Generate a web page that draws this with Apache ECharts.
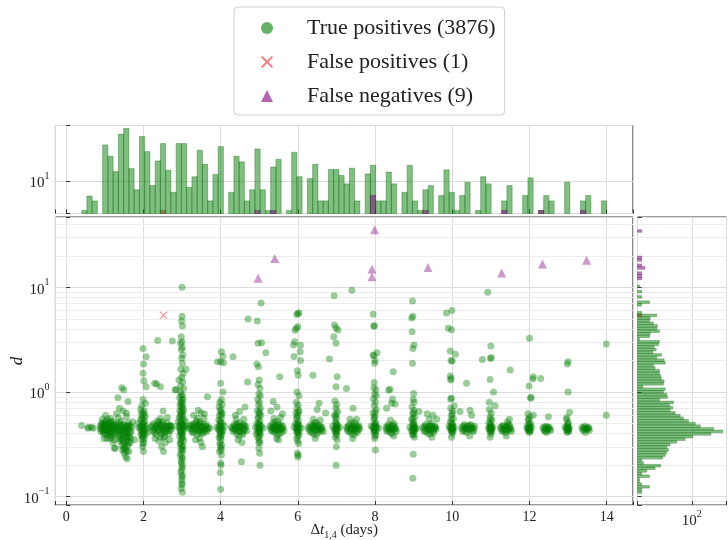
<!DOCTYPE html>
<html>
<head>
<meta charset="utf-8">
<script src="https://cdn.jsdelivr.net/npm/echarts@6/dist/echarts.min.js"></script>
<style>
  html, body { margin: 0; padding: 0; background: #fff; }
  #chart { width: 728px; height: 540px; }
</style>
</head>
<body>
<div id="chart"></div>
<script>
var legendNames = ['True positives (3876)', 'False positives (1)', 'False negatives (9)'];

// top histogram: 100 bins of dt, from 0.4 to 14.0 days
var topBinStart = 0.4, topBinWidth = 0.136;
var topHistGreen = [
  3.8, 6.1, 5.2, 0, 32.6, 22.5, 13.6, 46.4, 55.9, 15,
  7.5, 43, 26.2, 8.6, 19.3, 34.1, 14.2, 6.9, 34.1, 34.1,
  8.1, 11.5, 27.4, 17.3, 5.2, 12.4, 30.9, 0, 6.9, 22.5,
  18.7, 5.2, 7.5, 28.6, 7.5, 3.8, 15.8, 20.3, 0, 3.8,
  25.6, 11.5, 0, 10.8, 17.3, 5.2, 5.2, 14.6, 14.6, 12,
  9.1, 15.2, 5.2, 0, 12.6, 16.7, 5.2, 5.2, 13.4, 9.1,
  0, 6.9, 16.7, 5.2, 3.8, 7.5, 8.6, 0, 6.2, 14.4,
  6.9, 3.8, 6.2, 9.6, 0, 3.8, 11.5, 9.1, 0, 0,
  5.2, 8.6, 0, 0, 6.2, 11.1, 0, 3.8, 6.2, 5.2,
  0, 0, 9.6, 0, 0, 5.2, 6.2, 0, 0, 5.2
];
var topHistRed = [[15, 3.8]];
var topHistPurple = [[33, 3.8], [36, 3.8], [55, 6.2], [65, 3.8], [80, 3.8], [87, 3.8], [95, 3.8]];

// right histogram: 100 bins of log10(d)
var rightLogMin = -0.968, rightLogStep = 0.02519;
var rightHistGreen = [
  19.3, 19.3, 24.9, 19.3, 17.9, 17.9, 24.9, 19.3, 22.8, 30,
  36.1, 20.4, 19.3, 38.5, 41.7, 44, 46.5, 44, 49.1, 61,
  80.5, 103, 187, 277, 204, 132, 112, 89.7, 76, 68.3,
  57.9, 49.1, 53.5, 48, 54.8, 34.6, 45, 44, 39.4, 41.7,
  20, 39.4, 40.3, 36.9, 36.1, 34.6, 34.6, 30, 28.4, 41.7,
  40.3, 31.6, 36.9, 27.7, 31, 29, 33.4, 34.6, 17.9, 24.9,
  25.5, 34.6, 31.6, 32.4, 28.4, 24.9, 25.5, 31.6, 19.3, 0,
  0, 19.3, 24.9, 0, 19.3, 0, 19.3, 0, 18, 0,
  0, 0, 0, 0, 0, 0, 0, 0, 0, 0,
  0, 0, 0, 0, 0, 0, 0, 0, 0, 0
];
var rightHistRed = [[67, 19.3]];
var rightHistPurple = [[81, 19.3], [82, 19.3], [83, 19.3], [85, 21.5], [86, 19.3], [88, 19.3], [89, 19.3], [99, 19.3]];

// scatter: [dt (days), d] -- spread of each group
var tpSpread = [
  [0.40,0.48],[0.56,0.45],[0.58,0.46],[0.66,0.46],[0.70,0.45],
  [0.88,0.47],[0.90,0.42],[0.92,0.51],[0.95,0.45],[0.97,0.40],[0.99,0.49],[1.01,0.43],[1.03,0.53],[1.05,0.46],[1.06,0.39],
  [1.08,0.50],[1.10,0.44],[1.12,0.48],[1.14,0.41],[1.16,0.52],[1.18,0.45],[1.20,0.38],[1.22,0.49],[1.24,0.43],[1.27,0.47],
  [1.30,0.41],[1.02,0.60],[1.15,0.56],[0.94,0.55],[1.25,0.35],[1.21,0.33],[1.25,0.29],[1.12,0.36],[0.98,0.36],[1.07,0.55],
  [0.93,0.44],[1.00,0.46],[1.09,0.42],[1.19,0.47],[1.28,0.44],
  [1.32,0.50],[1.34,0.44],[1.36,0.39],[1.38,0.47],[1.40,0.42],[1.42,0.53],[1.43,0.36],[1.45,0.46],[1.47,0.40],[1.48,0.33],
  [1.50,0.49],[1.52,0.43],[1.53,0.37],[1.55,0.30],[1.56,0.47],[1.58,0.41],[1.59,0.35],[1.61,0.51],[1.62,0.44],[1.64,0.38],
  [1.66,0.48],[1.68,0.42],[1.70,0.46],[1.46,0.28],[1.50,0.26],[1.54,0.24],[1.58,0.23],[1.62,0.27],[1.52,0.31],[1.44,0.31],
  [1.60,0.31],[1.66,0.33],[1.40,0.34],[1.27,0.29],[1.77,0.35],[1.72,0.52],[1.35,0.57],[1.56,0.58],[1.48,0.45],[1.57,0.38],
  [1.44,1.10],[1.49,1.05],[1.34,0.88],[1.60,0.81],[1.38,0.70],[1.56,0.63],[1.47,0.66],[1.30,0.62],
  [1.93,0.68],[1.97,0.64],[2.02,0.66],[1.95,0.60],[2.00,0.57],[2.05,0.59],[1.93,0.54],[1.98,0.51],[2.03,0.53],[1.95,0.48],
  [2.00,0.46],[2.05,0.47],[1.92,0.44],[1.97,0.42],[2.02,0.43],[1.94,0.39],[1.99,0.37],[2.04,0.39],[1.96,0.35],[2.01,0.33],
  [1.98,0.30],[2.00,0.27],[1.88,0.46],[2.09,0.45],[1.86,0.50],[2.10,0.41],
  [1.99,2.61],[2.07,2.17],[2.00,1.85],[1.99,1.51],[2.01,1.28],[2.07,1.12],[1.99,0.85],[2.05,0.78],[1.96,0.74],
  [2.20,0.46],[2.24,0.42],[2.27,0.50],[2.30,0.45],[2.33,0.39],[2.35,0.48],[2.38,0.43],[2.41,0.52],[2.43,0.46],[2.46,0.40],
  [2.48,0.49],[2.51,0.44],[2.53,0.37],[2.56,0.47],[2.58,0.42],[2.61,0.51],[2.63,0.45],[2.66,0.40],[2.69,0.48],[2.72,0.44],
  [2.75,0.47],[2.40,0.34],[2.47,0.30],[2.52,0.27],[2.57,0.33],[2.44,0.56],[2.62,0.57],[2.30,0.36],[2.68,0.35],
  [2.29,1.21],[2.34,1.19],[2.44,1.12],[2.37,3.10],[2.75,3.07],[2.82,1.05],[2.51,0.66],
  [2.96,1.00],[3.01,0.94],[2.94,0.88],[3.03,0.86],[2.98,0.80],[2.95,0.74],[3.02,0.76],[2.99,0.70],[2.94,0.66],[3.04,0.67],
  [2.97,0.62],[3.01,0.59],[2.93,0.57],[3.05,0.55],[2.98,0.53],[2.95,0.50],[3.02,0.49],[2.99,0.46],[2.92,0.45],[3.06,0.45],
  [2.96,0.43],[3.03,0.42],[2.99,0.40],[2.94,0.38],[3.02,0.37],[2.97,0.35],[3.04,0.34],[2.95,0.32],[3.00,0.31],[2.97,0.29],
  [3.02,0.28],[2.99,0.26],[2.95,0.25],[3.01,0.23],[2.98,0.21],[3.00,0.19],[2.97,0.17],[3.01,0.16],[2.99,0.145],[3.00,0.13],
  [2.98,0.12],[3.01,0.11],[2.93,0.47],[3.07,0.48],[3.08,0.52],[2.90,0.52],
  [3.00,10.0],[3.00,5.30],[2.99,4.77],[3.01,4.27],[2.98,3.37],[3.00,3.00],[2.96,2.92],[3.01,2.65],[2.98,2.55],[3.02,2.26],
  [2.99,2.10],[3.01,1.88],[2.97,1.65],[3.03,1.50],[2.99,1.38],[3.02,1.25],[2.96,1.15],[3.04,1.08],[3.10,1.65],[2.85,1.05],[2.92,1.30],
  [3.18,0.45],[3.22,0.49],[3.25,0.43],[3.28,0.47],[3.31,0.41],[3.34,0.51],[3.36,0.45],[3.39,0.39],[3.42,0.48],[3.44,0.43],
  [3.47,0.52],[3.50,0.46],[3.52,0.40],[3.55,0.49],[3.58,0.44],[3.61,0.47],[3.64,0.42],[3.68,0.46],[3.72,0.45],[3.45,0.36],
  [3.49,0.33],[3.53,0.30],[3.40,0.56],[3.57,0.56],[3.35,0.35],
  [3.42,0.67],[3.49,0.63],[3.66,0.90],[3.30,0.60],[3.58,0.62],
  [3.96,0.72],[4.01,0.68],[4.04,0.63],[3.97,0.60],[4.02,0.57],[3.95,0.54],[4.00,0.51],[4.05,0.50],[3.97,0.47],[4.02,0.45],
  [3.94,0.44],[4.06,0.43],[3.99,0.41],[4.03,0.39],[3.96,0.37],[4.01,0.35],[3.98,0.33],[4.03,0.31],[4.00,0.29],[3.97,0.27],
  [4.02,0.25],[4.00,0.21],[4.01,0.20],[3.99,0.17],[4.00,0.118],[3.90,0.46],[4.10,0.47],
  [4.02,2.43],[4.06,2.20],[3.92,1.95],[4.00,1.95],[4.07,1.90],[4.00,1.21],[4.06,1.00],[4.02,0.85],[3.98,0.80],[4.04,0.76],[4.32,2.17],
  [4.28,0.46],[4.32,0.42],[4.35,0.49],[4.38,0.44],[4.41,0.40],[4.43,0.48],[4.46,0.45],[4.49,0.51],[4.51,0.42],[4.54,0.46],
  [4.57,0.39],[4.59,0.49],[4.62,0.44],[4.65,0.47],[4.68,0.43],[4.45,0.35],[4.55,0.33],[4.40,0.55],[4.60,0.55],
  [4.49,0.65],[4.38,0.60],[4.54,0.216],[4.70,1.25],[4.71,4.98],[4.63,0.72],
  [4.96,0.85],[5.01,0.80],[4.98,0.75],[5.03,0.70],[4.95,0.66],[5.00,0.62],[5.04,0.60],[4.97,0.56],[5.02,0.53],[4.94,0.50],
  [4.99,0.48],[5.05,0.47],[4.96,0.45],[5.01,0.43],[4.98,0.41],[5.03,0.39],[4.96,0.37],[5.00,0.35],[5.02,0.33],[4.99,0.29],
  [5.01,0.26],[5.02,0.20],[4.90,0.46],[5.10,0.45],[4.92,0.40],
  [5.05,7.10],[4.95,4.77],[4.97,2.92],[5.06,2.95],[5.17,2.37],[4.94,1.85],[4.98,1.74],[5.00,1.30],[4.97,1.18],[5.02,1.08],[4.99,0.96],[5.03,0.92],
  [5.28,0.47],[5.31,0.43],[5.34,0.50],[5.37,0.45],[5.40,0.41],[5.42,0.48],[5.45,0.44],[5.48,0.52],[5.50,0.46],[5.53,0.40],
  [5.56,0.49],[5.58,0.44],[5.61,0.47],[5.64,0.43],[5.45,0.36],[5.50,0.35],[5.38,0.56],[5.55,0.57],
  [5.53,1.40],[5.36,0.81],[5.46,0.72],[5.60,0.62],[5.30,0.66],
  [5.96,0.80],[6.01,0.75],[5.98,0.70],[6.03,0.66],[5.95,0.63],[6.00,0.60],[5.97,0.56],[6.02,0.53],[5.94,0.50],[5.99,0.48],
  [6.04,0.47],[5.96,0.45],[6.01,0.43],[5.98,0.41],[6.03,0.39],[5.97,0.36],[6.00,0.34],[6.02,0.32],[5.99,0.26],[6.01,0.25],
  [6.00,0.24],[5.90,0.46],[6.09,0.45],
  [6.00,5.64],[6.03,5.70],[5.97,5.50],[5.96,4.06],[6.00,4.20],[5.93,3.90],[5.92,3.02],[5.89,2.82],[6.07,2.80],[6.06,2.43],
  [5.90,2.18],[6.07,2.00],[5.99,1.60],[6.01,1.45],[5.98,1.00],[6.03,0.92],
  [6.27,0.46],[6.31,0.42],[6.34,0.49],[6.37,0.44],[6.40,0.40],[6.42,0.47],[6.45,0.43],[6.48,0.51],[6.51,0.45],[6.54,0.41],
  [6.57,0.48],[6.60,0.44],[6.63,0.46],[6.66,0.42],[6.45,0.36],[6.40,0.55],[6.58,0.54],
  [6.39,1.45],[6.55,0.78],[6.72,0.63],[6.50,0.68],
  [6.96,0.82],[7.01,0.76],[6.98,0.70],[7.03,0.65],[6.95,0.60],[7.00,0.56],[6.97,0.52],[7.02,0.49],[6.99,0.46],[6.94,0.44],
  [7.04,0.45],[6.98,0.42],[7.01,0.40],[6.97,0.37],[7.02,0.35],[7.00,0.30],[6.99,0.20],[6.90,0.47],[7.08,0.46],
  [6.94,8.30],[6.95,4.36],[6.99,4.10],[7.04,3.92],[6.93,3.37],[6.99,2.92],[6.82,2.07],[7.02,1.40],[6.99,1.12],[7.26,1.08],
  [7.26,0.46],[7.30,0.42],[7.33,0.49],[7.36,0.44],[7.39,0.40],[7.42,0.47],[7.45,0.43],[7.48,0.51],[7.51,0.45],[7.54,0.41],
  [7.57,0.48],[7.60,0.44],[7.42,0.36],[7.35,0.55],[7.52,0.55],
  [7.40,9.40],[7.43,0.70],
  [7.96,0.86],[8.01,0.80],[7.98,0.74],[8.03,0.68],[7.95,0.63],[8.00,0.59],[7.97,0.55],[8.02,0.51],[7.99,0.48],[7.94,0.46],
  [8.05,0.46],[8.00,0.43],[7.97,0.41],[8.02,0.39],[7.99,0.36],[8.01,0.28],[7.90,0.47],[8.09,0.45],
  [7.95,5.53],[7.97,4.25],[7.98,4.30],[7.95,2.26],[7.97,2.22],[8.05,2.37],[8.00,2.00],[7.99,1.88],[7.98,1.23],[7.97,1.10],
  [8.02,1.05],[7.99,0.96],[8.03,0.92],
  [8.28,0.46],[8.31,0.42],[8.34,0.49],[8.37,0.45],[8.40,0.41],[8.43,0.47],[8.46,0.44],[8.49,0.50],[8.52,0.45],[8.55,0.42],
  [8.40,0.54],[8.48,0.38],
  [8.47,1.56],[8.35,1.04],[8.39,1.06],[8.45,0.86],[8.43,0.78],[8.52,0.77],[8.30,0.70],
  [8.96,0.72],[9.01,0.67],[8.98,0.62],[9.03,0.58],[8.95,0.55],[9.00,0.52],[8.97,0.49],[9.02,0.47],[8.99,0.45],[8.94,0.43],
  [9.04,0.44],[9.00,0.41],[8.97,0.39],[9.02,0.37],[8.99,0.254],[8.98,0.15],[8.90,0.46],[9.08,0.45],
  [8.97,7.40],[8.98,5.30],[8.95,5.10],[8.96,3.76],[9.01,2.81],[8.98,2.60],[8.97,1.88],[9.00,0.97],[8.99,0.85],[9.01,0.80],
  [9.24,0.46],[9.28,0.42],[9.31,0.49],[9.34,0.44],[9.37,0.40],[9.40,0.47],[9.43,0.43],[9.46,0.50],[9.49,0.45],[9.52,0.41],
  [9.55,0.47],[9.58,0.44],[9.40,0.55],[9.47,0.37],
  [9.14,0.65],[9.50,0.60],[9.35,0.62],[9.60,0.55],
  [9.96,0.70],[10.01,0.66],[9.98,0.60],[10.03,0.56],[9.95,0.52],[10.00,0.49],[9.97,0.46],[10.02,0.44],[9.99,0.42],[9.94,0.45],
  [10.05,0.46],[10.00,0.40],[9.98,0.37],[9.92,0.47],
  [9.85,5.70],[9.99,6.00],[9.90,4.06],[9.98,3.93],[9.95,2.47],[10.08,2.30],[9.97,2.00],[10.00,1.98],[9.95,1.42],[9.97,1.35],
  [9.96,1.30],[9.96,0.86],[9.98,0.87],[10.05,0.74],
  [10.24,0.46],[10.28,0.42],[10.31,0.49],[10.34,0.45],[10.37,0.41],[10.40,0.47],[10.44,0.44],[10.48,0.49],[10.51,0.45],[10.55,0.42],
  [10.58,0.47],[10.45,0.38],
  [10.37,1.21],[10.20,0.65],[10.46,0.67],[10.50,0.60],
  [10.96,0.68],[11.01,0.63],[10.98,0.58],[11.03,0.54],[10.95,0.51],[11.00,0.48],[10.97,0.46],[11.02,0.44],[10.99,0.42],[10.94,0.45],
  [11.05,0.46],[11.00,0.40],[10.98,0.37],
  [10.92,9.00],[11.00,2.75],[10.99,2.10],[11.01,2.12],[10.78,2.05],[10.98,1.32],[11.07,1.00],[11.11,0.74],[10.96,0.80],
  [11.25,0.46],[11.29,0.42],[11.32,0.48],[11.35,0.44],[11.38,0.41],[11.41,0.47],[11.44,0.43],[11.47,0.49],[11.50,0.45],[11.53,0.42],
  [11.40,0.38],
  [11.50,1.62],[11.43,0.52],[11.48,0.55],
  [11.96,0.62],[12.01,0.58],[11.98,0.54],[12.03,0.50],[11.95,0.48],[12.00,0.46],[11.97,0.44],[12.02,0.43],[11.99,0.41],[11.93,0.45],
  [12.06,0.46],
  [12.00,3.26],[12.10,1.40],[12.09,1.33],[11.99,1.14],[12.04,0.89],[12.03,0.87],[12.29,1.35],[12.10,0.60],[11.97,0.55],
  [12.35,0.46],[12.39,0.43],[12.43,0.47],[12.47,0.44],[12.51,0.46],[12.55,0.43],[12.45,0.41],[12.49,0.58],
  [12.96,0.55],[13.01,0.51],[12.98,0.48],[13.03,0.46],[12.95,0.45],[13.00,0.43],[12.97,0.41],[13.02,0.44],[12.92,0.46],
  [13.00,1.95],[12.98,1.85],[13.00,1.00],[13.04,0.64],[12.97,0.57],
  [13.36,0.46],[13.40,0.43],[13.44,0.47],[13.48,0.44],[13.52,0.46],[13.55,0.43],[13.45,0.41],
  [13.99,2.87],[13.99,0.60]
];
// scatter: the dense cores of each group near d ~ 0.45
var tpCore = [
  [0.89,0.44],[0.91,0.48],[0.96,0.42],[0.98,0.47],[1.00,0.51],[1.02,0.40],[1.04,0.44],[1.06,0.48],[1.08,0.42],[1.11,0.46],
  [1.13,0.51],[1.15,0.43],[1.17,0.48],[1.19,0.41],[1.21,0.45],[1.23,0.52],[1.26,0.40],[1.29,0.48],[1.05,0.36],[1.17,0.37],
  [0.95,0.50],[1.13,0.39],
  [1.33,0.46],[1.36,0.42],[1.39,0.50],[1.41,0.38],[1.44,0.43],[1.46,0.35],[1.49,0.40],[1.51,0.46],[1.54,0.34],[1.55,0.41],
  [1.57,0.44],[1.60,0.37],[1.63,0.47],[1.65,0.41],[1.67,0.36],[1.53,0.28],[1.57,0.27],[1.49,0.29],[1.43,0.48],[1.59,0.48],
  [1.37,0.36],[1.62,0.33],
  [1.96,0.56],[2.01,0.62],[1.99,0.49],[1.94,0.46],[2.04,0.43],[1.97,0.38],[2.02,0.36],[1.99,0.32],[1.96,0.41],[2.02,0.50],
  [1.98,0.44],[2.00,0.40],
  [2.22,0.48],[2.26,0.44],[2.29,0.41],[2.32,0.47],[2.36,0.45],[2.39,0.49],[2.42,0.42],[2.45,0.47],[2.49,0.43],[2.52,0.48],
  [2.55,0.42],[2.59,0.46],[2.62,0.43],[2.65,0.48],[2.68,0.43],[2.71,0.47],[2.45,0.37],[2.55,0.38],[2.36,0.53],[2.50,0.52],
  [2.97,0.50],[3.00,0.48],[2.96,0.46],[3.02,0.44],[2.98,0.42],[3.00,0.39],[2.96,0.41],[3.03,0.47],[2.99,0.56],[2.96,0.59],
  [3.02,0.63],[2.99,0.66],[3.01,0.72],[2.97,0.78],[3.00,0.84],[2.98,0.92],[3.00,0.36],[2.97,0.33],[3.02,0.30],[2.99,0.28],
  [3.00,0.24],[2.98,0.22],[3.01,0.20],[2.99,0.18],[3.00,0.155],[3.00,0.135],
  [3.20,0.47],[3.24,0.45],[3.27,0.41],[3.30,0.49],[3.33,0.44],[3.37,0.48],[3.41,0.43],[3.43,0.46],[3.46,0.41],[3.48,0.48],
  [3.51,0.43],[3.54,0.46],[3.57,0.41],[3.60,0.44],[3.63,0.49],[3.66,0.44],[3.46,0.50],[3.38,0.53],
  [3.98,0.49],[4.01,0.47],[3.97,0.43],[4.03,0.42],[3.99,0.39],[4.01,0.44],[3.99,0.53],[4.02,0.61],[3.99,0.65],[4.00,0.37],
  [3.99,0.31],[4.02,0.28],
  [4.30,0.45],[4.34,0.44],[4.37,0.47],[4.40,0.43],[4.44,0.46],[4.47,0.42],[4.50,0.47],[4.53,0.44],[4.56,0.48],[4.60,0.43],
  [4.63,0.47],[4.48,0.38],[4.42,0.50],[4.58,0.41],
  [4.98,0.46],[5.01,0.45],[4.97,0.42],[5.02,0.41],[4.99,0.50],[5.01,0.49],[4.98,0.58],[5.01,0.65],[5.00,0.38],[4.99,0.33],
  [5.00,0.44],
  [5.30,0.45],[5.33,0.46],[5.36,0.42],[5.39,0.48],[5.42,0.44],[5.44,0.47],[5.47,0.43],[5.50,0.49],[5.52,0.44],[5.55,0.46],
  [5.58,0.41],[5.61,0.45],[5.47,0.39],[5.40,0.52],
  [5.98,0.46],[6.01,0.45],[5.97,0.42],[6.02,0.41],[5.99,0.50],[6.01,0.49],[5.98,0.58],[6.01,0.64],[6.00,0.38],[5.99,0.44],
  [6.29,0.44],[6.33,0.46],[6.36,0.41],[6.39,0.48],[6.43,0.45],[6.46,0.47],[6.49,0.43],[6.52,0.48],[6.55,0.44],[6.59,0.46],
  [6.62,0.43],[6.48,0.39],[6.44,0.51],
  [6.98,0.46],[7.01,0.45],[6.97,0.42],[7.02,0.43],[6.99,0.50],[7.01,0.48],[6.98,0.58],[7.00,0.62],[7.00,0.39],[6.99,0.44],
  [7.28,0.44],[7.31,0.47],[7.35,0.42],[7.38,0.46],[7.41,0.44],[7.44,0.48],[7.47,0.45],[7.50,0.42],[7.53,0.47],[7.56,0.44],
  [7.59,0.46],[7.46,0.39],[7.40,0.51],
  [7.98,0.46],[8.01,0.45],[7.97,0.43],[8.02,0.42],[7.99,0.50],[8.01,0.48],[7.98,0.57],[8.00,0.64],[8.00,0.38],[7.99,0.44],
  [8.30,0.44],[8.33,0.47],[8.36,0.43],[8.39,0.46],[8.42,0.44],[8.45,0.48],[8.48,0.44],[8.51,0.47],[8.54,0.44],[8.44,0.40],
  [8.98,0.46],[9.01,0.45],[8.97,0.42],[9.02,0.43],[8.99,0.50],[9.01,0.48],[8.98,0.56],[9.00,0.63],[9.00,0.39],[8.99,0.44],
  [9.26,0.44],[9.29,0.47],[9.33,0.42],[9.36,0.46],[9.39,0.44],[9.42,0.48],[9.45,0.44],[9.48,0.47],[9.51,0.43],[9.54,0.45],
  [9.57,0.46],[9.44,0.40],
  [9.98,0.46],[10.01,0.45],[9.97,0.43],[10.02,0.42],[9.99,0.50],[10.01,0.48],[9.98,0.55],[10.00,0.62],[9.99,0.44],
  [10.26,0.44],[10.30,0.47],[10.33,0.43],[10.36,0.46],[10.39,0.44],[10.42,0.48],[10.46,0.44],[10.50,0.47],[10.53,0.43],[10.56,0.45],
  [10.98,0.46],[11.01,0.45],[10.97,0.43],[11.02,0.42],[10.99,0.50],[11.01,0.47],[10.99,0.55],[11.00,0.44],
  [11.27,0.44],[11.30,0.47],[11.34,0.43],[11.37,0.46],[11.40,0.44],[11.43,0.48],[11.46,0.44],[11.49,0.47],[11.52,0.44],
  [11.98,0.46],[12.01,0.45],[11.97,0.43],[12.02,0.42],[11.99,0.50],[12.01,0.47],[12.00,0.44],
  [12.37,0.44],[12.41,0.46],[12.45,0.44],[12.49,0.46],[12.53,0.44],[12.41,0.42],
  [12.98,0.46],[13.01,0.45],[12.97,0.43],[13.02,0.42],[12.99,0.50],[13.00,0.44],
  [13.38,0.44],[13.42,0.46],[13.46,0.44],[13.50,0.45],[13.54,0.45]
];
var falsePositives = [[2.52, 5.4]];
var falseNegatives = [[4.97,12.2],[5.40,18.9],[7.99,35.6],[7.92,15.0],[7.92,12.6],[9.37,15.5],[11.28,13.7],[12.34,16.7],[13.48,18.2]];

var minorD = [0.09, 0.2, 0.3, 0.4, 0.5, 0.6, 0.7, 0.8, 0.9, 2, 3, 4, 5, 6, 7, 8, 9, 20, 30, 40];

var xMin = -0.28, xMax = 14.68;
var dMin = 0.0833, dMax = 47;
var topYMin = 3.44, topYMax = 61.7;
var rightXMin = 16.8, rightXMax = 313;

var FONT = 'Liberation Serif';
var GREEN = 'rgba(0,128,0,0.5)', GREEN_EDGE = 'rgba(0,90,0,0.55)';
var RED = 'rgba(255,0,0,0.5)';
var PURPLE = 'rgba(128,0,128,0.5)', PURPLE_EDGE = 'rgba(90,0,90,0.6)';
var CROSS = 'path://M0,1L1,0L5,4L9,0L10,1L6,5L10,9L9,10L5,6L1,10L0,9L4,5Z';

var chart = echarts.init(document.getElementById('chart'));

function powLabel(v) {
  var l = Math.log10(v), e = Math.round(l);
  if (Math.abs(l - e) > 1e-6) return '';
  return '{b|10}{s|' + (e < 0 ? '\u2212' + (-e) : e) + '}';
}
var powRich = {
  b: { fontSize: 15, fontFamily: FONT, color: '#222', verticalAlign: 'bottom', lineHeight: 20 },
  s: { fontSize: 10, fontFamily: FONT, color: '#222', verticalAlign: 'top', lineHeight: 12 }
};
function evenLabel(v) {
  return Math.abs(v / 2 - Math.round(v / 2)) < 1e-6 ? String(Math.round(v)) : '';
}

function topBins(list) {
  return list.map(function (p) {
    return [topBinStart + p[0] * topBinWidth, topBinStart + (p[0] + 1) * topBinWidth, p[1]];
  });
}
function rightBins(list) {
  return list.map(function (p) {
    return [p[1], Math.pow(10, rightLogMin + p[0] * rightLogStep), Math.pow(10, rightLogMin + (p[0] + 1) * rightLogStep)];
  });
}
function topRect(fill, stroke) {
  return function (params, api) {
    var v = api.value(2);
    if (!(v > 0)) return null;
    var a = api.coord([api.value(0), v]);
    var b = api.coord([api.value(1), topYMin]);
    return { type: 'rect', shape: { x: a[0], y: a[1], width: b[0] - a[0], height: b[1] - a[1] },
      style: { fill: fill, stroke: stroke, lineWidth: 0.6 } };
  };
}
function rightRect(fill, stroke) {
  return function (params, api) {
    var v = api.value(0);
    if (!(v > 0)) return null;
    var a = api.coord([rightXMin, api.value(2)]);
    var b = api.coord([v, api.value(1)]);
    return { type: 'rect', shape: { x: a[0], y: a[1], width: b[0] - a[0], height: b[1] - a[1] },
      style: { fill: fill, stroke: stroke, lineWidth: 0.5 } };
  };
}

var minorLines = {
  silent: true, symbol: ['none', 'none'], animation: false, z: 0,
  label: { show: false },
  lineStyle: { color: '#ececec', width: 1, type: 'solid' },
  emphasis: { disabled: true },
  data: minorD.map(function (d) { return { yAxis: d }; })
};

var gridStyle = { show: true, borderColor: '#3a3a3a', borderWidth: 1, containLabel: false, outerBoundsMode: 'none' };
var split = { show: true, lineStyle: { color: '#dcdcdc', width: 1 } };
var tick = { show: true, inside: true, length: 4, lineStyle: { color: '#333' } };

var option = {
  animation: false,
  backgroundColor: '#fff',
  textStyle: { fontFamily: FONT },
  legend: {
    orient: 'vertical',
    left: 234, top: 7,
    padding: [9, 9, 7, 27],
    itemGap: 10,
    itemWidth: 12, itemHeight: 12,
    borderColor: '#cfcfcf', borderWidth: 1, borderRadius: 4,
    backgroundColor: '#fff',
    textStyle: { fontSize: 22, fontFamily: FONT, color: '#222', lineHeight: 24, padding: [0, 0, 0, 29] },
    data: [
      { name: legendNames[0], icon: 'circle', itemStyle: { color: 'rgba(0,128,0,0.75)' } },
      { name: legendNames[1], icon: CROSS, itemStyle: { color: 'rgba(255,0,0,0.7)' } },
      { name: legendNames[2], icon: 'triangle', itemStyle: { color: 'rgba(128,0,128,0.75)' } }
    ]
  },
  grid: [
    Object.assign({ left: 55.4, top: 125.5, width: 577.5, height: 88 }, gridStyle),
    Object.assign({ left: 55.4, top: 217, width: 577.5, height: 288 }, gridStyle),
    Object.assign({ left: 637.5, top: 217, width: 89, height: 288 }, gridStyle)
  ],
  xAxis: [
    { gridIndex: 0, type: 'value', min: xMin, max: xMax, splitNumber: 7,
      axisLine: { show: false }, axisTick: tick, axisLabel: { show: false }, splitLine: split },
    { gridIndex: 1, type: 'value', min: xMin, max: xMax, splitNumber: 7,
      axisLine: { show: false }, axisTick: tick, splitLine: split,
      axisLabel: { formatter: evenLabel, fontSize: 14, color: '#222', margin: 5, fontFamily: FONT },
      name: '{d|\u0394}{i|t}{s|1,4}{a| (days)}', nameLocation: 'middle', nameGap: 15, nameMoveOverlap: false,
      nameTextStyle: { rich: {
        d: { fontSize: 15, fontFamily: FONT, color: '#222' },
        i: { fontSize: 15, fontFamily: FONT, fontStyle: 'italic', color: '#222' },
        s: { fontSize: 10, fontFamily: FONT, color: '#222', verticalAlign: 'bottom', lineHeight: 20 },
        a: { fontSize: 15, fontFamily: FONT, color: '#222' }
      } } },
    { gridIndex: 2, type: 'log', logBase: 10, min: rightXMin, max: rightXMax,
      axisLine: { show: false }, axisTick: tick, splitLine: split,
      axisLabel: { formatter: powLabel, rich: powRich, margin: 4 } }
  ],
  yAxis: [
    { gridIndex: 0, type: 'log', logBase: 10, min: topYMin, max: topYMax,
      axisLine: { show: false }, axisTick: tick, splitLine: split,
      axisLabel: { formatter: powLabel, rich: powRich, margin: 6 } },
    { gridIndex: 1, type: 'log', logBase: 10, min: dMin, max: dMax,
      axisLine: { show: false }, axisTick: tick, splitLine: split,
      axisLabel: { formatter: powLabel, rich: powRich, margin: 6 },
      name: 'd', nameLocation: 'middle', nameGap: 29, nameRotate: 90, nameMoveOverlap: false,
      nameTextStyle: { fontSize: 17, fontStyle: 'italic', fontFamily: FONT, color: '#222' } },
    { gridIndex: 2, type: 'log', logBase: 10, min: dMin, max: dMax,
      axisLine: { show: false }, axisTick: tick, splitLine: split,
      axisLabel: { show: false } }
  ],
  series: [
    // minor grid lines
    { type: 'scatter', xAxisIndex: 1, yAxisIndex: 1, data: [], z: 0, markLine: minorLines },
    { type: 'scatter', xAxisIndex: 2, yAxisIndex: 2, data: [], z: 0, markLine: minorLines },
    // top histogram
    { type: 'custom', xAxisIndex: 0, yAxisIndex: 0, z: 2, silent: true,
      renderItem: topRect(RED, 'rgba(200,0,0,0.5)'), encode: { x: [0, 1], y: 2 }, data: topBins(topHistRed) },
    { type: 'custom', xAxisIndex: 0, yAxisIndex: 0, z: 3, silent: true,
      renderItem: topRect(GREEN, GREEN_EDGE), encode: { x: [0, 1], y: 2 },
      data: topBins(topHistGreen.map(function (v, i) { return [i, v]; })) },
    { type: 'custom', xAxisIndex: 0, yAxisIndex: 0, z: 4, silent: true,
      renderItem: topRect(PURPLE, PURPLE_EDGE), encode: { x: [0, 1], y: 2 }, data: topBins(topHistPurple) },
    // right histogram
    { type: 'custom', xAxisIndex: 2, yAxisIndex: 2, z: 2, silent: true,
      renderItem: rightRect(RED, 'rgba(200,0,0,0.5)'), encode: { x: 0, y: [1, 2] }, data: rightBins(rightHistRed) },
    { type: 'custom', xAxisIndex: 2, yAxisIndex: 2, z: 3, silent: true,
      renderItem: rightRect(GREEN, GREEN_EDGE), encode: { x: 0, y: [1, 2] },
      data: rightBins(rightHistGreen.map(function (v, i) { return [i, v]; })) },
    { type: 'custom', xAxisIndex: 2, yAxisIndex: 2, z: 4, silent: true,
      renderItem: rightRect(PURPLE, PURPLE_EDGE), encode: { x: 0, y: [1, 2] }, data: rightBins(rightHistPurple) },
    // scatter
    { name: legendNames[0], type: 'scatter', xAxisIndex: 1, yAxisIndex: 1, z: 3,
      symbol: 'circle', symbolSize: 7, itemStyle: { color: GREEN }, data: tpSpread.concat(tpCore) },
    { name: legendNames[1], type: 'scatter', xAxisIndex: 1, yAxisIndex: 1, z: 4,
      symbol: CROSS, symbolSize: 8, itemStyle: { color: RED }, data: falsePositives },
    { name: legendNames[2], type: 'scatter', xAxisIndex: 1, yAxisIndex: 1, z: 4,
      symbol: 'triangle', symbolSize: 9, itemStyle: { color: PURPLE }, data: falseNegatives }
  ]
};

chart.setOption(option);
</script>
</body>
</html>
